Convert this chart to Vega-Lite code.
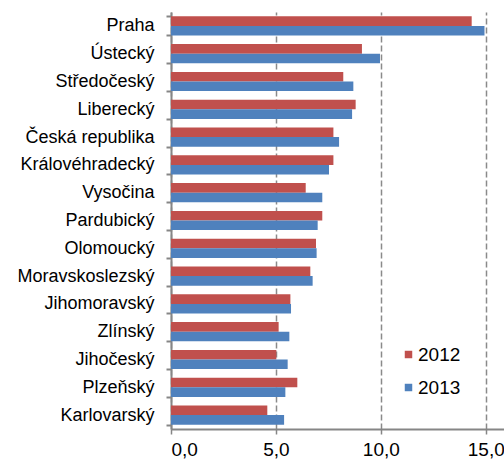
{
  "$schema": "https://vega.github.io/schema/vega-lite/v6.json",
  "width": 333,
  "height": 417,
  "autosize": {"type": "none"},
  "padding": {"left": 171, "top": 12, "right": 0, "bottom": 30},
  "background": "white",
  "config": {
    "view": {"stroke": null},
    "font": "Liberation Sans"
  },
  "data": {
    "values": [
      {"region": "Praha", "year": "2012", "value": 14.33},
      {"region": "Praha", "year": "2013", "value": 14.94},
      {"region": "Ústecký", "year": "2012", "value": 9.10},
      {"region": "Ústecký", "year": "2013", "value": 9.96},
      {"region": "Středočeský", "year": "2012", "value": 8.21},
      {"region": "Středočeský", "year": "2013", "value": 8.69},
      {"region": "Liberecký", "year": "2012", "value": 8.80},
      {"region": "Liberecký", "year": "2013", "value": 8.63},
      {"region": "Česká republika", "year": "2012", "value": 7.74},
      {"region": "Česká republika", "year": "2013", "value": 8.01},
      {"region": "Královéhradecký", "year": "2012", "value": 7.74},
      {"region": "Královéhradecký", "year": "2013", "value": 7.53},
      {"region": "Vysočina", "year": "2012", "value": 6.42},
      {"region": "Vysočina", "year": "2013", "value": 7.21},
      {"region": "Pardubický", "year": "2012", "value": 7.21},
      {"region": "Pardubický", "year": "2013", "value": 6.99},
      {"region": "Olomoucký", "year": "2012", "value": 6.91},
      {"region": "Olomoucký", "year": "2013", "value": 6.94},
      {"region": "Moravskoslezský", "year": "2012", "value": 6.64},
      {"region": "Moravskoslezský", "year": "2013", "value": 6.75},
      {"region": "Jihomoravský", "year": "2012", "value": 5.69},
      {"region": "Jihomoravský", "year": "2013", "value": 5.72},
      {"region": "Zlínský", "year": "2012", "value": 5.13},
      {"region": "Zlínský", "year": "2013", "value": 5.64},
      {"region": "Jihočeský", "year": "2012", "value": 5.02},
      {"region": "Jihočeský", "year": "2013", "value": 5.56},
      {"region": "Plzeňský", "year": "2012", "value": 6.02},
      {"region": "Plzeňský", "year": "2013", "value": 5.45},
      {"region": "Karlovarský", "year": "2012", "value": 4.59},
      {"region": "Karlovarský", "year": "2013", "value": 5.39}
    ]
  },
  "mark": {"type": "bar"},
  "encoding": {
    "y": {
      "field": "region",
      "type": "nominal",
      "sort": ["Praha", "Ústecký", "Středočeský", "Liberecký", "Česká republika", "Královéhradecký", "Vysočina", "Pardubický", "Olomoucký", "Moravskoslezský", "Jihomoravský", "Zlínský", "Jihočeský", "Plzeňský", "Karlovarský"],
      "scale": {"paddingInner": 0.31, "paddingOuter": 0.155},
      "axis": {
        "title": null,
        "domainColor": "#868686",
        "domainWidth": 2,
        "tickColor": "#868686",
        "tickWidth": 2,
        "tickSize": 5,
        "tickBand": "extent",
        "labelFontSize": 18,
        "labelColor": "#000000",
        "labelPadding": 12
      }
    },
    "yOffset": {"field": "year", "type": "nominal", "sort": ["2012", "2013"]},
    "x": {
      "field": "value",
      "type": "quantitative",
      "scale": {"domain": [0, 15.87], "nice": false},
      "axis": {
        "title": null,
        "values": [0, 5, 10, 15],
        "labelExpr": "replace(format(datum.value, '.1f'), '.', ',')",
        "labelFontSize": 19,
        "labelColor": "#000000",
        "labelPadding": 6,
        "domainColor": "#868686",
        "domainWidth": 2,
        "tickColor": "#868686",
        "tickWidth": 1.5,
        "tickSize": 5,
        "grid": true,
        "gridColor": "#8a8a8a",
        "gridWidth": 1.5,
        "gridDash": [6, 3]
      }
    },
    "color": {
      "field": "year",
      "type": "nominal",
      "scale": {"domain": ["2012", "2013"], "range": ["#C0504D", "#4F81BD"]},
      "legend": {
        "title": null,
        "orient": "none",
        "legendX": 228,
        "legendY": 333,
        "symbolType": "square",
        "symbolSize": 56,
        "symbolStrokeWidth": 0,
        "labelFontSize": 19,
        "labelColor": "#000000",
        "labelOffset": 0,
        "rowPadding": 13
      }
    }
  }
}
